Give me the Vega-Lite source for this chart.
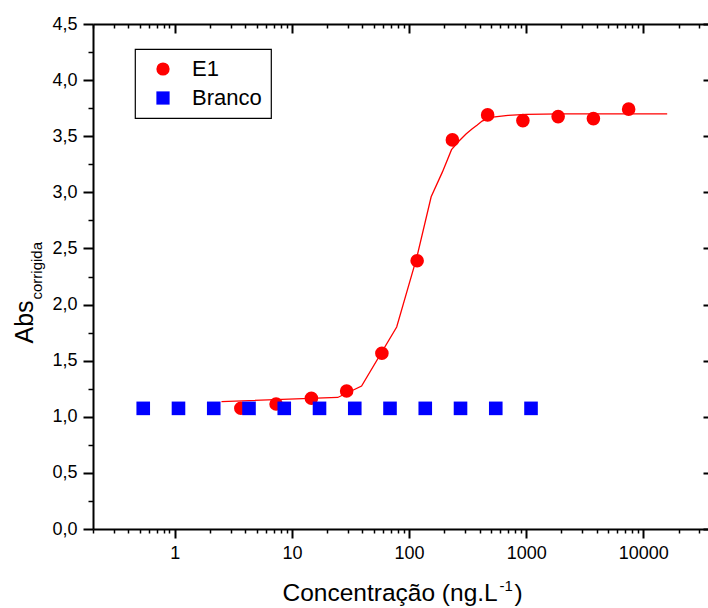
{
  "$schema": "https://vega.github.io/schema/vega-lite/v6.json",
  "width": 615,
  "height": 505,
  "autosize": "none",
  "padding": {"left": 93, "top": 24, "right": 0, "bottom": 79},
  "config": {
    "font": "Liberation Sans",
    "view": {"stroke": null},
    "axis": {
      "grid": false,
      "domainColor": "black",
      "domainWidth": 2,
      "tickColor": "black",
      "labelColor": "black",
      "titleColor": "black",
      "titleFontWeight": "normal",
      "labelFont": "Liberation Sans",
      "titleFont": "Liberation Sans",
      "labelFontSize": 18,
      "labelOverlap": false,
      "labelFlush": false
    },
    "legend": {
      "orient": "none",
      "legendX": 42,
      "legendY": 25,
      "padding": 9,
      "strokeColor": "black",
      "strokeWidth": 1.2,
      "fillColor": "white",
      "cornerRadius": 0,
      "labelFont": "Liberation Sans",
      "labelFontSize": 22,
      "labelColor": "black",
      "symbolSize": 175,
      "symbolOffset": 8,
      "labelOffset": 18,
      "rowPadding": 7,
      "symbolStrokeWidth": 0
    }
  },
  "datasets": {
    "ajuste": [
      {"conc": 2.5, "abs": 1.135},
      {"conc": 24.6, "abs": 1.172},
      {"conc": 39.3, "abs": 1.274},
      {"conc": 78.4, "abs": 1.8},
      {"conc": 116.4, "abs": 2.42},
      {"conc": 154.4, "abs": 2.96},
      {"conc": 192.4, "abs": 3.18},
      {"conc": 230.4, "abs": 3.38},
      {"conc": 268.4, "abs": 3.46},
      {"conc": 306.4, "abs": 3.52},
      {"conc": 344.4, "abs": 3.565},
      {"conc": 382.4, "abs": 3.6},
      {"conc": 420.4, "abs": 3.635},
      {"conc": 496.4, "abs": 3.668},
      {"conc": 700, "abs": 3.685},
      {"conc": 1000, "abs": 3.695},
      {"conc": 2000, "abs": 3.699},
      {"conc": 16000, "abs": 3.7}
    ],
    "e1": [
      {"serie": "E1", "conc": 3.66, "abs": 1.076},
      {"serie": "E1", "conc": 7.32, "abs": 1.114},
      {"serie": "E1", "conc": 14.65, "abs": 1.165},
      {"serie": "E1", "conc": 29.3, "abs": 1.23},
      {"serie": "E1", "conc": 58.6, "abs": 1.566},
      {"serie": "E1", "conc": 117.2, "abs": 2.39},
      {"serie": "E1", "conc": 234.4, "abs": 3.467},
      {"serie": "E1", "conc": 468.75, "abs": 3.69},
      {"serie": "E1", "conc": 937.5, "abs": 3.639},
      {"serie": "E1", "conc": 1875, "abs": 3.675},
      {"serie": "E1", "conc": 3750, "abs": 3.657},
      {"serie": "E1", "conc": 7500, "abs": 3.741}
    ],
    "branco": [
      {"serie": "Branco", "conc": 0.537, "abs": 1.075},
      {"serie": "Branco", "conc": 1.074, "abs": 1.075},
      {"serie": "Branco", "conc": 2.148, "abs": 1.075},
      {"serie": "Branco", "conc": 4.297, "abs": 1.075},
      {"serie": "Branco", "conc": 8.594, "abs": 1.075},
      {"serie": "Branco", "conc": 17.19, "abs": 1.075},
      {"serie": "Branco", "conc": 34.38, "abs": 1.075},
      {"serie": "Branco", "conc": 68.75, "abs": 1.075},
      {"serie": "Branco", "conc": 137.5, "abs": 1.075},
      {"serie": "Branco", "conc": 275, "abs": 1.075},
      {"serie": "Branco", "conc": 550, "abs": 1.075},
      {"serie": "Branco", "conc": 1100, "abs": 1.075}
    ]
  },
  "layer": [
    {
      "data": {"name": "ajuste"},
      "mark": {"type": "line", "color": "#ff0000", "strokeWidth": 1.3},
      "encoding": {
        "x": {
          "field": "conc",
          "type": "quantitative",
          "scale": {"type": "log", "domain": [0.2, 35700], "nice": false},
          "axis": {
            "orient": "bottom",
            "values": [0.2, 0.3, 0.4, 0.5, 0.6, 0.7, 0.8, 0.9, 1, 2, 3, 4, 5, 6, 7, 8, 9, 10, 20, 30, 40, 50, 60, 70, 80, 90, 100, 200, 300, 400, 500, 600, 700, 800, 900, 1000, 2000, 3000, 4000, 5000, 6000, 7000, 8000, 9000, 10000, 20000, 30000],
            "labelExpr": "indexof([1, 10, 100, 1000, 10000], datum.value) >= 0 ? format(datum.value, 'd') : ''",
            "labelPadding": 6,
            "tickSize": {"condition": {"test": "indexof([1, 10, 100, 1000, 10000], datum.value) >= 0", "value": 9}, "value": 4},
            "tickWidth": {"condition": {"test": "indexof([1, 10, 100, 1000, 10000], datum.value) >= 0", "value": 2}, "value": 1.5},
            "title": "Concentração (ng.L",
            "titleFontSize": 24.5,
            "titleX": 189,
            "titleY": 71,
            "titleAngle": 0,
            "titleAlign": "left",
            "titleBaseline": "alphabetic"
          }
        },
        "y": {
          "field": "abs",
          "type": "quantitative",
          "scale": {"domain": [0, 4.5], "nice": false, "zero": false},
          "axis": {
            "orient": "left",
            "values": [0, 0.25, 0.5, 0.75, 1, 1.25, 1.5, 1.75, 2, 2.25, 2.5, 2.75, 3, 3.25, 3.5, 3.75, 4, 4.25, 4.5],
            "labelExpr": "abs(datum.value * 2 - round(datum.value * 2)) < 1e-6 ? replace(format(datum.value, '.1f'), '.', ',') : ''",
            "labelPadding": 6,
            "tickSize": {"condition": {"test": "abs(datum.value * 2 - round(datum.value * 2)) < 1e-6", "value": 10}, "value": 5},
            "tickWidth": {"condition": {"test": "abs(datum.value * 2 - round(datum.value * 2)) < 1e-6", "value": 2}, "value": 1.5},
            "title": "Abs",
            "titleFontSize": 25,
            "titleX": -61,
            "titleY": 319,
            "titleAngle": -90,
            "titleAlign": "left",
            "titleBaseline": "alphabetic"
          }
        }
      }
    },
    {
      "data": {"name": "e1"},
      "mark": {"type": "point", "filled": true, "size": 185, "opacity": 1, "strokeWidth": 0},
      "encoding": {
        "x": {
          "field": "conc",
          "type": "quantitative",
          "axis": {
            "orient": "top",
            "values": [0.2, 0.3, 0.4, 0.5, 0.6, 0.7, 0.8, 0.9, 1, 2, 3, 4, 5, 6, 7, 8, 9, 10, 20, 30, 40, 50, 60, 70, 80, 90, 100, 200, 300, 400, 500, 600, 700, 800, 900, 1000, 2000, 3000, 4000, 5000, 6000, 7000, 8000, 9000, 10000, 20000, 30000],
            "labels": false,
            "tickSize": {"condition": {"test": "indexof([1, 10, 100, 1000, 10000], datum.value) >= 0", "value": -9}, "value": -4},
            "tickWidth": {"condition": {"test": "indexof([1, 10, 100, 1000, 10000], datum.value) >= 0", "value": 2}, "value": 1.5},
            "title": "-1",
            "titleFontSize": 15,
            "titleX": 406,
            "titleY": 566,
            "titleAngle": 0,
            "titleAlign": "left",
            "titleBaseline": "alphabetic"
          }
        },
        "y": {
          "field": "abs",
          "type": "quantitative",
          "axis": {
            "orient": "right",
            "values": [0, 0.5, 1, 1.5, 2, 2.5, 3, 3.5, 4, 4.5],
            "labels": false,
            "domain": false,
            "tickSize": -5,
            "tickWidth": 2,
            "title": "corrigida",
            "titleFontSize": 15,
            "titleX": -667,
            "titleY": 275,
            "titleAngle": -90,
            "titleAlign": "left",
            "titleBaseline": "alphabetic"
          }
        },
        "color": {
          "field": "serie",
          "type": "nominal",
          "scale": {"domain": ["E1", "Branco"], "range": ["#ff0000", "#0000ff"]},
          "legend": {"title": null}
        },
        "shape": {
          "field": "serie",
          "type": "nominal",
          "scale": {"domain": ["E1", "Branco"], "range": ["circle", "square"]},
          "legend": {"title": null}
        }
      }
    },
    {
      "data": {"name": "branco"},
      "mark": {"type": "point", "filled": true, "size": 185, "opacity": 1, "strokeWidth": 0},
      "encoding": {
        "x": {
          "field": "conc",
          "type": "quantitative",
          "axis": {
            "orient": "bottom",
            "domain": false,
            "ticks": false,
            "labels": false,
            "title": ")",
            "titleFontSize": 24.5,
            "titleX": 421,
            "titleY": 71,
            "titleAngle": 0,
            "titleAlign": "left",
            "titleBaseline": "alphabetic"
          }
        },
        "y": {"field": "abs", "type": "quantitative", "axis": null},
        "color": {
          "field": "serie",
          "type": "nominal",
          "legend": {"title": null}
        },
        "shape": {
          "field": "serie",
          "type": "nominal",
          "legend": {"title": null}
        }
      }
    }
  ],
  "resolve": {"axis": {"x": "independent", "y": "independent"}}
}
